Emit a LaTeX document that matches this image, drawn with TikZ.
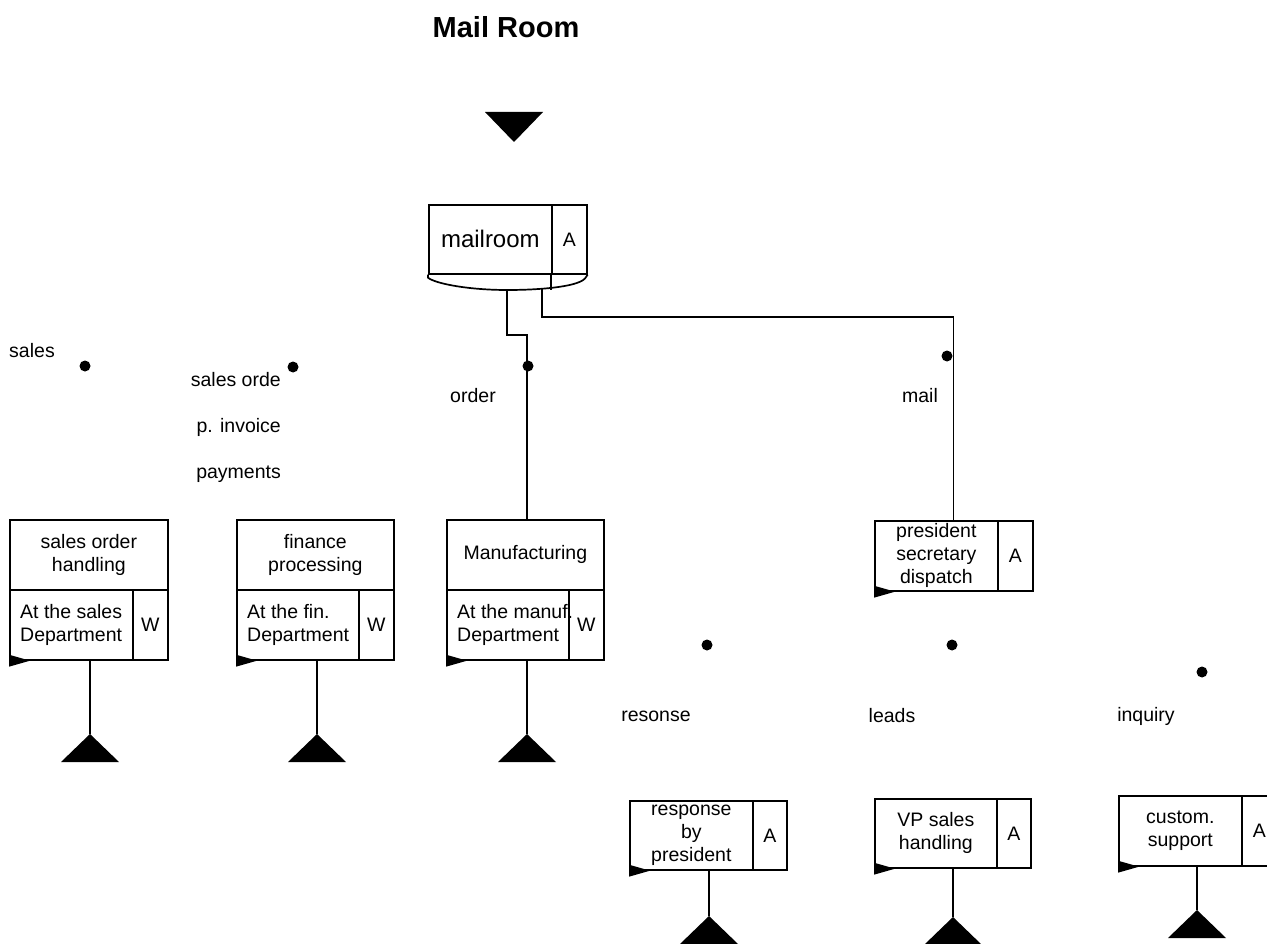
\documentclass[tikz,border=0pt]{standalone}
\usepackage{fontspec}
\setmainfont{Liberation Sans}
\begin{document}
\begin{tikzpicture}[x=1pt,y=-1pt,
  ln/.style={line width=1.7pt},
  cell/.style={draw, line width=1.7pt, inner sep=0pt, anchor=north west, align=center, font=\fontsize{19.5}{23}\selectfont},
  lbl/.style={inner sep=0pt, font=\fontsize{19.5}{23}\selectfont},
  dotn/.style={circle, fill=black, inner sep=0pt, minimum size=11pt},
  evt/.style={fill=black},
  flagmark/.style={fill=black}
]
\useasboundingbox (0,0) rectangle (1267,944);
\clip (0,0) rectangle (1267,944);

% title and top triangle
\node[inner sep=0pt, font=\fontsize{29}{32}\selectfont\bfseries] (title) at (506,27) {Mail Room};
\coordinate (topev) at (514,142);
\fill[evt] (topev) -- ++(-29,-30) -- ++(58,0) -- cycle;

% mailroom
\node[cell, minimum width=123pt, minimum height=69pt, font=\fontsize{24}{28}\selectfont] (mr) at (428,204) {mailroom};
\node[cell, minimum width=35pt, minimum height=69pt] (mrA) at (551,204) {A};
\draw[ln] (mr.south west) -- ++(0,3) .. controls (436,284) and (470,290) .. (507,290)
  .. controls (545,290) and (582,286) .. (586,277) -- (mrA.south east);
\draw[ln] (mrA.south west) -- ++(0,15);
\coordinate (mrb1) at (507,290);
\coordinate (mrb2) at (542,289);

% sales order handling
\node[cell, minimum width=158pt, minimum height=70pt] (soh) at (9,519) {sales order\\handling};
\node[cell, minimum width=123pt, minimum height=70pt] (sohL) at (9,589) {};
\node[cell, minimum width=35pt, minimum height=70pt] (sohW) at (132,589) {W};
\node[lbl, anchor=west, align=left] (sohT) at ([xshift=11pt]sohL.west) {At the sales\\Department};
\fill[flagmark] (sohL.south west) ++(0,-6) -- ++(0,12) -- ++(21,-6) -- cycle;

% finance processing
\node[cell, minimum width=157pt, minimum height=70pt] (fin) at (236,519) {finance\\processing};
\node[cell, minimum width=122pt, minimum height=70pt] (finL) at (236,589) {};
\node[cell, minimum width=35pt, minimum height=70pt] (finW) at (358,589) {W};
\node[lbl, anchor=west, align=left] (finT) at ([xshift=11pt]finL.west) {At the fin.\\Department};
\fill[flagmark] (finL.south west) ++(0,-6) -- ++(0,12) -- ++(21,-6) -- cycle;

% manufacturing
\node[cell, minimum width=157pt, minimum height=70pt] (man) at (446,519) {Manufacturing};
\node[cell, minimum width=122pt, minimum height=70pt] (manL) at (446,589) {};
\node[cell, minimum width=35pt, minimum height=70pt] (manW) at (568,589) {W};
\node[lbl, anchor=west, align=left] (manT) at ([xshift=11pt]manL.west) {At the manuf.\\Department};
\fill[flagmark] (manL.south west) ++(0,-6) -- ++(0,12) -- ++(21,-6) -- cycle;

% president secretary dispatch
\node[cell, minimum width=123pt, minimum height=70pt] (pres) at (874,520) {president\\secretary\\dispatch};
\node[cell, minimum width=35pt, minimum height=70pt] (presA) at (997,520) {A};
\fill[flagmark] (pres.south west) ++(0,-6) -- ++(0,12) -- ++(21,-6) -- cycle;

% response by president
\node[cell, minimum width=123pt, minimum height=69pt] (resp) at (629,800) {response\\by\\president};
\node[cell, minimum width=34pt, minimum height=69pt] (respA) at (752,800) {A};
\fill[flagmark] (resp.south west) ++(0,-6) -- ++(0,12) -- ++(21,-6) -- cycle;

% VP sales handling
\node[cell, minimum width=122pt, minimum height=69pt] (vp) at (874,798) {VP sales\\handling};
\node[cell, minimum width=34pt, minimum height=69pt] (vpA) at (996,798) {A};
\fill[flagmark] (vp.south west) ++(0,-6) -- ++(0,12) -- ++(21,-6) -- cycle;

% custom. support
\node[cell, minimum width=123pt, minimum height=70pt] (cust) at (1118,795) {custom.\\support};
\node[cell, minimum width=35pt, minimum height=70pt] (custA) at (1241,795) {A};
\fill[flagmark] (cust.south west) ++(0,-6) -- ++(0,12) -- ++(21,-6) -- cycle;

% end events
\coordinate (e1) at (90,734);
\coordinate (e2) at (317,734);
\coordinate (e3) at (527,734);
\coordinate (e4) at (709,916);
\coordinate (e5) at (953,917);
\coordinate (e6) at (1197,910);
\foreach \e in {e1,e2,e3,e4,e5,e6} {
  \fill[evt] (\e) -- ++(-29,28) -- ++(58,0) -- cycle;
}
\draw[ln] (e1 |- sohL.south) -- (e1);
\draw[ln] (e2 |- finL.south) -- (e2);
\draw[ln] (e3 |- manL.south) -- (e3);
\draw[ln] (e4 |- resp.south) -- (e4);
\draw[ln] (e5 |- vp.south) -- (e5);
\draw[ln] (e6 |- cust.south) -- (e6);

% connectors from mailroom
\coordinate (c1) at (507,335);
\coordinate (c2) at (542,317);
\draw[ln] (mrb1) -- (c1) -| ([xshift=1.5pt]man.north);
\draw[ln] (mrb2) -- (c2) -| ([xshift=17pt]pres.north);

% dots
\node[dotn] (d1) at (85,366) {};
\node[dotn] (d2) at (293,367) {};
\node[dotn] (d3) at (528,366) {};
\node[dotn] (d4) at (947,356) {};
\node[dotn] (d5) at (707,645) {};
\node[dotn] (d6) at (952,645) {};
\node[dotn] (d7) at (1202,672) {};

% labels
\node[lbl] (lsales) at (32,351) {sales};
\node[lbl, anchor=east] (lso) at (281,380) {sales orde};
\node[lbl, anchor=east] (lpi) at (281,427) {p. invoice};
\node[lbl, anchor=east] (lpay) at (281,474) {payments};
\node[lbl] (lorder) at (473,396) {order};
\node[lbl] (lmail) at (920,396) {mail};
\node[lbl] (lres) at (656,716) {resonse};
\node[lbl] (lleads) at (892,716) {leads};
\node[lbl] (linq) at (1146,716) {inquiry};
\end{tikzpicture}
\end{document}
